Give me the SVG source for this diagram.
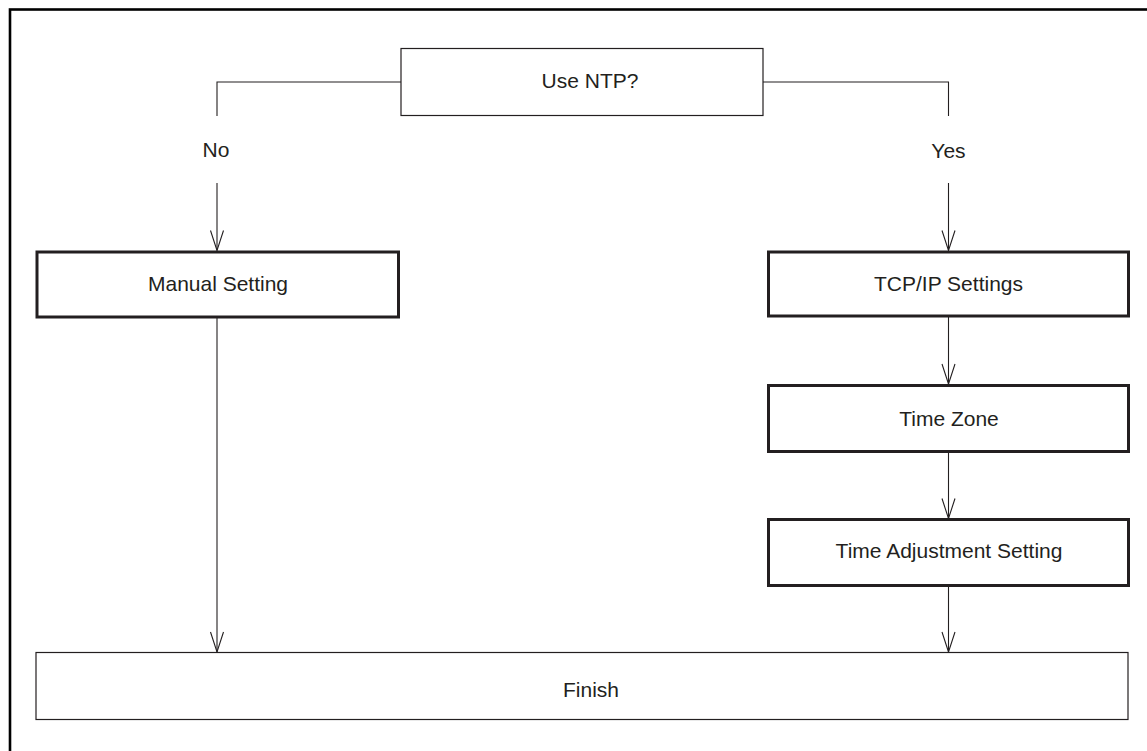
<svg xmlns="http://www.w3.org/2000/svg" width="1147" height="751" viewBox="0 0 1147 751">
  <style>
    .frame { fill: none; stroke: #000; stroke-width: 2.6; }
    .thin { fill: #fff; stroke: #231f20; stroke-width: 1.2; }
    .thick { fill: #fff; stroke: #231f20; stroke-width: 3; }
    .conn { fill: none; stroke: #231f20; stroke-width: 1.1; }
    .lbl { font-family: "Liberation Sans", Arial, sans-serif; font-size: 21px; fill: #231f20; text-anchor: middle; }
  </style>
  <defs>
    <marker id="vee" markerUnits="userSpaceOnUse" markerWidth="24" markerHeight="16" viewBox="-21 -8 22 16" refX="0" refY="0" orient="auto" overflow="visible">
      <path d="M-20,-6.5 L0,0 L-20,6.5" fill="none" stroke="#231f20" stroke-width="1.1"/>
    </marker>
  </defs>
  <rect width="1147" height="751" fill="#fff"/>
  <rect class="frame" x="10" y="9.5" width="1150" height="760"/>

  <g id="connectors">
    <polyline class="conn" points="401,82 217,82 217,116"/>
    <polyline class="conn" points="763,82 948.5,82 948.5,116"/>
    <line class="conn" x1="217" y1="183" x2="217" y2="250.5" marker-end="url(#vee)"/>
    <line class="conn" x1="948.5" y1="183" x2="948.5" y2="250.5" marker-end="url(#vee)"/>
    <line class="conn" x1="217" y1="316" x2="217" y2="652" marker-end="url(#vee)"/>
    <line class="conn" x1="948.5" y1="316" x2="948.5" y2="384" marker-end="url(#vee)"/>
    <line class="conn" x1="948.5" y1="451" x2="948.5" y2="518.5" marker-end="url(#vee)"/>
    <line class="conn" x1="948.5" y1="585" x2="948.5" y2="652" marker-end="url(#vee)"/>
  </g>

  <g id="use-ntp">
    <rect class="thin" x="401" y="48.5" width="362" height="67"/>
    <text class="lbl" x="590" y="88">Use NTP?</text>
  </g>
  <g id="label-no">
    <text class="lbl" x="216" y="157">No</text>
  </g>
  <g id="label-yes">
    <text class="lbl" x="948.5" y="158">Yes</text>
  </g>
  <g id="manual-setting">
    <rect class="thick" x="37" y="252" width="361.5" height="65"/>
    <text class="lbl" x="218" y="291">Manual Setting</text>
  </g>
  <g id="tcpip-settings">
    <rect class="thick" x="768.5" y="252" width="360" height="64"/>
    <text class="lbl" x="948.5" y="291">TCP/IP Settings</text>
  </g>
  <g id="time-zone">
    <rect class="thick" x="768.5" y="385.5" width="360" height="66"/>
    <text class="lbl" x="949" y="426">Time Zone</text>
  </g>
  <g id="time-adjustment">
    <rect class="thick" x="768.5" y="519.5" width="360" height="66"/>
    <text class="lbl" x="949" y="558">Time Adjustment Setting</text>
  </g>
  <g id="finish">
    <rect class="thin" x="36" y="652.5" width="1092" height="67"/>
    <text class="lbl" x="591" y="697">Finish</text>
  </g>
</svg>
